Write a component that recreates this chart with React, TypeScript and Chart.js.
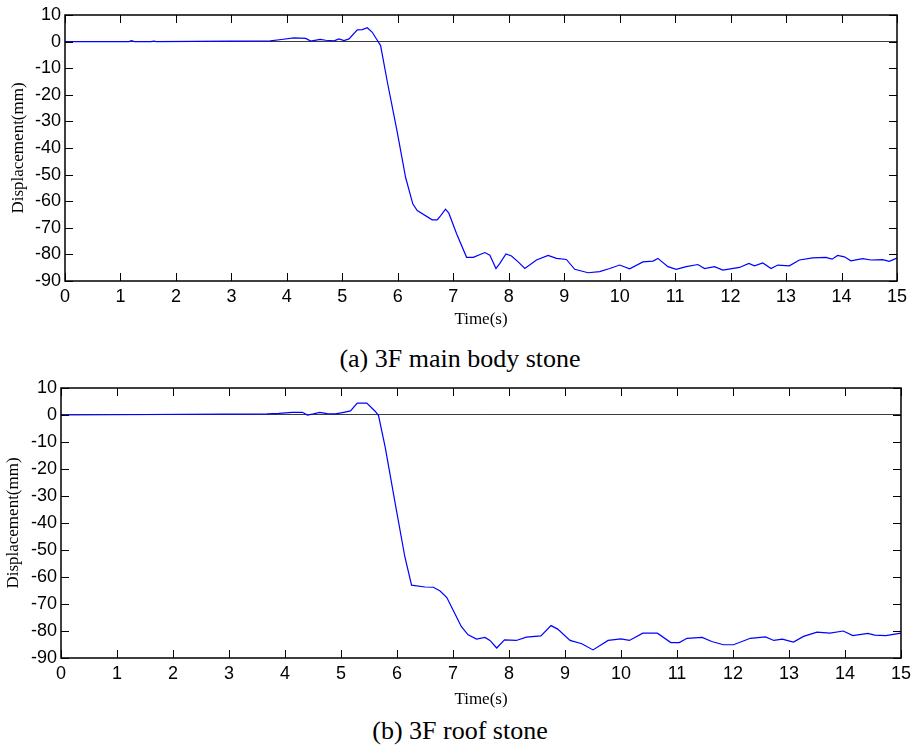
import React, { useEffect, useRef } from "react";
import { Chart, registerables } from "chart.js";

Chart.register(...registerables);

// ---- data ----
const timeA = [0, 1.15, 1.2, 1.25, 1.55, 1.6, 1.65, 3.7, 3.9, 4.13, 4.34, 4.43, 4.6, 4.7, 4.85, 4.94, 5.03, 5.12, 5.27, 5.36, 5.45, 5.54, 5.63, 5.69, 5.81, 5.99, 6.14, 6.27, 6.35, 6.62, 6.71, 6.77, 6.86, 6.92, 7.06, 7.24, 7.36, 7.57, 7.66, 7.77, 7.84, 7.95, 8.05, 8.17, 8.29, 8.5, 8.71, 8.86, 9.04, 9.19, 9.43, 9.64, 9.82, 10.0, 10.18, 10.42, 10.6, 10.69, 10.87, 11.02, 11.2, 11.41, 11.53, 11.71, 11.86, 12.16, 12.33, 12.43, 12.58, 12.73, 12.85, 13.06, 13.24, 13.48, 13.72, 13.83, 13.93, 14.05, 14.17, 14.38, 14.53, 14.74, 14.86, 15.0];
const dispA = [0, 0, 0.4, 0, 0, 0.2, 0, 0.3, 0.8, 1.4, 1.2, 0.2, 0.8, 0.5, 0.3, 1.0, 0.4, 1.0, 4.4, 4.5, 5.2, 3.5, 0.5, -1.5, -15, -34, -51, -61, -63.5, -67, -67, -65.5, -63, -64.5, -72.2, -81.1, -81.1, -79.3, -80.3, -85.3, -83.4, -79.8, -80.6, -82.8, -85.3, -82.1, -80.4, -81.5, -81.9, -85.6, -86.9, -86.5, -85.3, -84.0, -85.4, -82.8, -82.5, -81.5, -84.6, -85.6, -84.6, -83.8, -85.3, -84.6, -85.9, -84.9, -83.4, -84.3, -83.2, -85.3, -84.0, -84.3, -82.1, -81.3, -81.1, -81.8, -80.4, -80.9, -82.4, -81.6, -82.1, -82.0, -82.6, -81.4];

const timeB = [0, 3.68, 3.89, 4.13, 4.31, 4.4, 4.51, 4.62, 4.75, 4.9, 5.05, 5.17, 5.29, 5.46, 5.61, 5.67, 5.79, 5.97, 6.14, 6.26, 6.5, 6.65, 6.77, 6.89, 7.03, 7.15, 7.27, 7.42, 7.57, 7.66, 7.78, 7.92, 8.13, 8.31, 8.57, 8.75, 8.87, 9.09, 9.3, 9.5, 9.77, 10.0, 10.15, 10.39, 10.65, 10.89, 11.04, 11.18, 11.45, 11.62, 11.83, 12.01, 12.31, 12.58, 12.73, 12.88, 13.08, 13.26, 13.5, 13.73, 13.97, 14.14, 14.41, 14.53, 14.73, 15.0];
const dispB = [0, 0.4, 0.6, 1.0, 1.0, 0, 0.4, 1.0, 0.5, 0.4, 1.0, 1.5, 4.4, 4.4, 1.4, -0.2, -12, -33, -52.5, -63, -63.7, -63.8, -65.2, -67.6, -73.4, -78.4, -81.4, -83.0, -82.4, -83.5, -86.3, -83.3, -83.5, -82.3, -81.8, -78.0, -79.3, -83.5, -84.7, -87.0, -83.5, -82.9, -83.5, -80.8, -80.8, -84.3, -84.3, -82.7, -82.4, -83.9, -85.1, -85.1, -82.7, -82.2, -83.5, -83.0, -84.1, -82.0, -80.4, -80.8, -80.0, -81.7, -80.9, -81.5, -81.7, -80.8];

const xRange = [0, 15];
const yRange = [-90, 10];
const xStep = 1;
const yStep = 10;
const xTitle = "Time(s)";
const yTitle = "Displacement(mm)";
const captionA = "(a) 3F main body stone";
const captionB = "(b) 3F roof stone";

const SANS = "'Liberation Sans', Arial, sans-serif";
const SERIF = "'Liberation Serif', 'Times New Roman', serif";

const boxTicks = {
  id: "boxTicks",
  afterDatasetsDraw(chart: any) {
    const { ctx, chartArea } = chart;
    const { left, right, top, bottom } = chartArea;
    const x = chart.scales.x;
    const y = chart.scales.y;
    const L = 8;
    ctx.save();
    ctx.strokeStyle = "#000";
    ctx.lineWidth = 1;
    ctx.beginPath();
    x.ticks.forEach((t: any) => {
      const px = Math.round(x.getPixelForValue(t.value)) + 0.5;
      ctx.moveTo(px, bottom);
      ctx.lineTo(px, bottom - L);
      ctx.moveTo(px, top);
      ctx.lineTo(px, top + L);
    });
    y.ticks.forEach((t: any) => {
      const py = Math.round(y.getPixelForValue(t.value)) + 0.5;
      ctx.moveTo(left, py);
      ctx.lineTo(left + L, py);
      ctx.moveTo(right, py);
      ctx.lineTo(right - L, py);
    });
    ctx.stroke();
    ctx.lineWidth = 1.5;
    ctx.strokeRect(left, top, right - left, bottom - top);
    ctx.restore();
  },
};

type PanelProps = {
  times: number[];
  values: number[];
  top: number;
  height: number;
  padTop: number;
  padRight: number;
  yAxisWidth: number;
  xAxisHeight: number;
  yTitlePad: number;
  xTitlePad: number;
};

function Panel(p: PanelProps) {
  const ref = useRef<HTMLCanvasElement | null>(null);
  useEffect(() => {
    if (!ref.current) return;
    const chart = new Chart(ref.current, {
      type: "line",
      data: {
        datasets: [
          {
            data: p.times.map((t, i) => ({ x: t, y: p.values[i] })),
            borderColor: "#0000ff",
            borderWidth: 1.2,
            pointRadius: 0,
            tension: 0,
            fill: false,
          },
        ],
      },
      options: {
        responsive: false,
        animation: false,
        devicePixelRatio: 1,
        layout: { padding: { top: p.padTop, right: p.padRight, left: 0, bottom: 0 } },
        plugins: { legend: { display: false }, tooltip: { enabled: false } },
        scales: {
          x: {
            type: "linear",
            min: xRange[0],
            max: xRange[1],
            ticks: {
              stepSize: xStep,
              autoSkip: false,
              maxRotation: 0,
              color: "#000",
              padding: 5,
              font: { family: SANS, size: 18 },
            },
            grid: { display: false, drawTicks: false },
            border: { display: false },
            title: {
              display: true,
              text: xTitle,
              color: "#000",
              font: { family: SERIF, size: 17 },
              padding: { top: p.xTitlePad, bottom: 0 },
            },
            afterFit: (s: any) => {
              s.height = p.xAxisHeight;
            },
          },
          y: {
            type: "linear",
            min: yRange[0],
            max: yRange[1],
            ticks: {
              stepSize: yStep,
              autoSkip: false,
              color: "#000",
              padding: 4,
              font: { family: SANS, size: 18 },
            },
            grid: {
              drawTicks: false,
              lineWidth: 1,
              color: (c: any) => (c.tick && c.tick.value === 0 ? "#3c3c3c" : "rgba(0,0,0,0)"),
            },
            border: { display: false },
            title: {
              display: true,
              text: yTitle,
              color: "#000",
              font: { family: SERIF, size: 17 },
              padding: { top: p.yTitlePad, bottom: 0 },
            },
            afterFit: (s: any) => {
              s.width = p.yAxisWidth;
            },
          },
        },
      } as any,
      plugins: [boxTicks],
    });
    return () => chart.destroy();
  }, []);
  return (
    <canvas
      ref={ref}
      width={916}
      height={p.height}
      style={{ position: "absolute", left: 0, top: p.top, width: 916, height: p.height }}
    />
  );
}

const captionStyle = (top: number): React.CSSProperties => ({
  position: "absolute",
  left: 2,
  width: 916,
  top,
  textAlign: "center",
  fontFamily: SERIF,
  fontSize: 26,
  lineHeight: "30px",
  color: "#000",
  whiteSpace: "nowrap",
});

export default function App() {
  return (
    <div style={{ position: "absolute", left: 0, top: 0, width: 916, height: 751, background: "#fff", overflow: "hidden" }}>
      <Panel times={timeA} values={dispA} top={0} height={330} padTop={15} padRight={19} yAxisWidth={65} xAxisHeight={49} yTitlePad={8} xTitlePad={3} />
      <div style={captionStyle(344)}>{captionA}</div>
      <Panel times={timeB} values={dispB} top={370} height={340} padTop={18} padRight={11} yAxisWidth={61} xAxisHeight={52} yTitlePad={3} xTitlePad={5} />
      <div style={captionStyle(716)}>{captionB}</div>
    </div>
  );
}
